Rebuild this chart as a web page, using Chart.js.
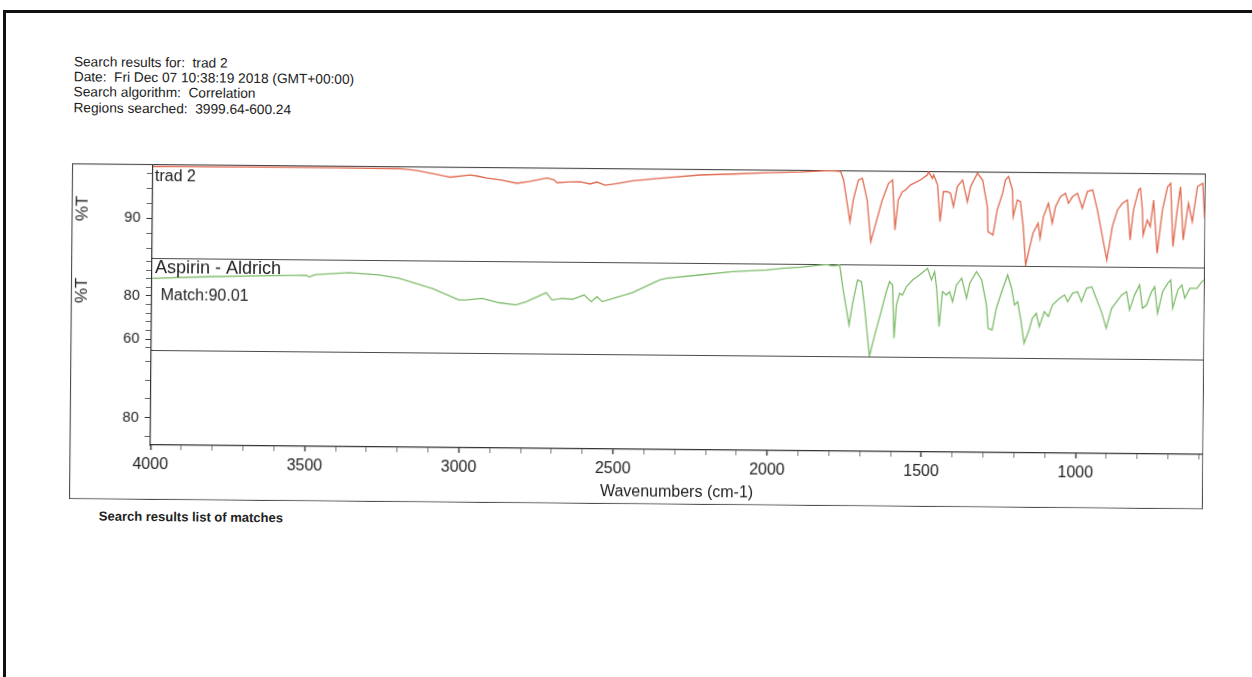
<!DOCTYPE html>
<html>
<head>
<meta charset="utf-8">
<script src="https://cdn.jsdelivr.net/npm/chart.js@4.4.1/dist/chart.umd.min.js"></script>
<style>
html,body{margin:0;padding:0;background:#fff;width:1252px;height:677px;overflow:hidden;}
#border{position:absolute;left:3px;top:10px;width:1300px;height:700px;border-top:3px solid #111;border-left:3px solid #111;}
#page{position:absolute;left:0;top:0;width:1252px;height:677px;transform:rotate(0.52deg);transform-origin:153px 164px;}
#hdr{position:absolute;left:73px;top:55px;font:13.7px/15.2px "Liberation Sans",Arial,sans-serif;color:#222;white-space:pre;}
#wrap{position:absolute;left:72px;top:164px;width:1134px;height:336px;}
#foot{position:absolute;left:102px;top:509px;font:bold 13px/15px "Liberation Sans",Arial,sans-serif;color:#222;white-space:pre;}
</style>
</head>
<body>
<div id="border"></div>
<div id="page">
<div id="hdr">Search results for:  trad 2
Date:  Fri Dec 07 10:38:19 2018 (GMT+00:00)
Search algorithm:  Correlation
Regions searched:  3999.64-600.24</div>
<div id="wrap"><canvas id="c" width="1134" height="336"></canvas></div>
<div id="foot">Search results list of matches</div>
</div>
<script>
// ---- data (wavenumber cm-1 / %T) ----
const tradWn = [4000,3900,3800,3700,3600,3500,3400,3300,3200,3150,
  3100,3050,3036,2971,2950,2916,2870,2819,2780,2721,
  2700,2689,2650,2614,2582,2560,2533,2500,2442,2345,
  2225,2117,2007,1900,1803,1770,1760,1738,1728,1712,
  1699,1683,1670,1657,1634,1614,1601,1592,1582,1569,
  1559,1543,1511,1488,1485,1472,1468,1455,1446,1436,
  1423,1413,1403,1391,1374,1358,1348,1326,1309,1293,
  1290,1274,1261,1244,1235,1225,1212,1209,1196,1186,
  1176,1167,1154,1144,1128,1121,1111,1095,1082,1072,
  1056,1040,1030,1017,1001,985,969,952,936,904,
  887,871,855,839,829,819,803,797,790,787,
  774,764,754,741,725,709,699,690,677,667,
  657,641,628,612,595,588];
const tradT = [96.91,96.92,96.93,96.96,96.97,96.97,96.97,96.93,96.91,96.71,
  96.37,95.97,95.84,96.16,96.04,95.77,95.51,95.11,95.37,95.85,
  95.64,95.24,95.37,95.40,95.11,95.37,94.97,95.17,95.60,95.99,
  96.44,96.61,96.83,96.97,97.20,97.08,95.95,90.39,93.29,95.96,
  96.20,93.31,87.75,89.76,93.32,95.56,96.00,89.35,93.35,94.45,
  94.68,95.36,96.04,96.72,97.16,96.28,96.72,95.39,90.51,94.51,
  94.51,94.31,92.52,95.19,96.09,93.20,95.20,97.00,96.11,92.56,
  89.23,88.79,92.13,94.36,96.15,96.59,94.81,91.25,93.49,93.27,
  89.93,84.83,87.28,89.07,90.41,88.41,91.29,93.08,90.43,92.64,
  93.99,94.44,93.11,94.00,94.45,92.47,94.69,94.92,92.27,85.60,
  90.05,92.28,93.17,93.63,88.29,92.29,94.97,95.20,92.31,88.97,
  90.97,90.09,93.65,86.55,92.33,95.44,95.89,87.45,92.35,95.45,
  88.36,93.25,90.81,95.48,95.93,91.32];

const aspWn = [4000,3800,3650,3500,3490,3470,3361,3263,3198,3111,
  3091,3004,2981,2929,2874,2819,2786,2721,2702,2669,
  2637,2598,2575,2556,2539,2442,2354,2332,2225,2117,
  2007,1955,1900,1812,1793,1770,1759,1738,1728,1712,
  1699,1689,1671,1657,1640,1618,1608,1598,1592,1585,
  1575,1566,1553,1533,1511,1485,1472,1462,1455,1446,
  1436,1423,1413,1403,1391,1374,1358,1348,1326,1309,
  1293,1287,1274,1261,1244,1225,1212,1202,1192,1180,
  1170,1154,1144,1131,1121,1105,1092,1079,1056,1040,
  1030,1014,998,985,969,952,933,920,904,887,
  871,855,839,829,813,797,787,774,758,748,
  738,722,706,696,689,673,660,650,634,611,
  595,588];
const aspT = [88.17,89.24,89.80,90.20,89.40,90.60,91.59,90.67,89.19,85.45,
  84.71,79.44,79.49,80.32,78.38,77.37,78.94,83.19,79.81,80.64,
  80.23,82.26,79.21,81.52,79.26,83.55,89.51,90.34,92.01,93.67,
  94.59,95.42,95.98,97.40,96.72,97.20,86.46,69.51,78.75,90.34,
  89.56,78.84,55.20,63.51,72.75,85.08,89.70,88.17,63.58,78.98,
  84.39,83.60,87.48,90.58,92.93,96.05,90.67,94.50,86.83,69.14,
  85.31,83.79,85.33,80.74,88.45,91.59,82.35,89.28,94.69,90.85,
  79.35,68.59,67.80,77.83,85.54,93.30,87.16,79.44,81.01,71.78,
  61.80,67.99,73.39,75.70,69.56,76.49,74.23,79.63,82.77,84.29,
  81.20,85.12,85.86,81.29,87.48,88.22,81.34,76.72,69.10,78.34,
  81.43,84.52,86.10,77.64,84.57,89.24,78.47,80.00,86.19,88.50,
  76.21,86.23,90.11,91.68,78.61,87.07,89.42,83.28,87.90,87.94,
  90.99,91.82];

const xTickLabels = [4000,3500,3000,2500,2000,1500,1000];
const topTickLabels = [90];
const midTickLabels = [80,60];
const botTickLabels = [80];

const FONT = '"Liberation Sans", Arial, sans-serif';
const INK = '#222';

function yPanel(stackWeight, weight, min, max, step, labels) {
  return {
    type: 'linear', position: 'left', stack: 'panels', stackWeight, weight, min, max,
    afterFit(s) { s.width = 81; s.paddingTop = 0; s.paddingBottom = 0; },
    grid: { drawOnChartArea: false, drawTicks: true, tickLength: 6, color: '#444',
      tickColor: c => (c.tick && labels.includes(c.tick.value)) ? '#333' : '#666' },
    border: { display: true, color: '#333', width: 1.2 },
    ticks: {
      stepSize: step, includeBounds: false, autoSkip: false, maxTicksLimit: 1000, padding: 6,
      color: INK, font: { family: FONT, size: 14.5 },
      callback: v => labels.includes(v) ? String(v) : ''
    }
  };
}

const toPts = (xs, ys) => xs.map((x, i) => ({ x, y: ys[i] }));

const framePlugin = {
  id: 'frame',
  beforeDatasetsDraw(chart) {
    const { ctx, chartArea: a, scales } = chart;
    ctx.save();
    ctx.strokeStyle = '#4a4a4a';
    ctx.lineWidth = 1.2;
    ctx.strokeRect(0.5, 0.5, chart.width - 1, chart.height - 1);
    ctx.beginPath();
    [scales.yTop.bottom, scales.yMid.bottom].forEach(y => {
      const yy = Math.round(y) + 0.5;
      ctx.moveTo(a.left, yy); ctx.lineTo(a.right, yy);
    });
    ctx.stroke();
    ctx.restore();
  },
  afterDraw(chart) {
    const { ctx, chartArea: a, scales } = chart;
    ctx.save();
    ctx.fillStyle = INK;
    ctx.textBaseline = 'middle';
    ctx.textAlign = 'left';
    ctx.font = '16px ' + FONT;
    ctx.fillText('trad 2', a.left + 2, scales.yTop.top + 12.7);
    ctx.font = '18px ' + FONT;
    ctx.fillText('Aspirin - Aldrich', a.left + 3, scales.yMid.top + 10.3);
    ctx.font = '16px ' + FONT;
    ctx.fillText('Match:90.01', a.left + 8.7, scales.yMid.top + 37.7);
    ctx.font = '17px ' + FONT;
    ctx.textAlign = 'center';
    [[scales.yTop.top + 45], [scales.yMid.top + 33]].forEach(([y]) => {
      ctx.save();
      ctx.translate(11.5, y);
      ctx.rotate(-Math.PI / 2);
      ctx.fillText('%T', 0, 0);
      ctx.restore();
    });
    ctx.restore();
  }
};

new Chart(document.getElementById('c'), {
  type: 'line',
  data: {
    datasets: [
      { label: 'trad 2', data: toPts(tradWn, tradT), xAxisID: 'x', yAxisID: 'yTop',
        borderColor: '#e0694f', borderWidth: 1.3, pointRadius: 0, tension: 0, fill: false },
      { label: 'Aspirin - Aldrich', data: toPts(aspWn, aspT), xAxisID: 'x', yAxisID: 'yMid',
        borderColor: '#7fbd6c', borderWidth: 1.3, pointRadius: 0, tension: 0, fill: false }
    ]
  },
  options: {
    responsive: false,
    animation: false,
    devicePixelRatio: 1,
    layout: { padding: { left: 0, right: 0, top: 0, bottom: 0 } },
    plugins: { legend: { display: false }, tooltip: { enabled: false } },
    scales: {
      x: {
        type: 'linear', position: 'bottom', reverse: true, min: 585, max: 4000,
        afterFit(s) { s.height = 55; s.paddingLeft = 0; s.paddingRight = 0; },
        grid: {
          drawOnChartArea: false, drawTicks: true, tickLength: 5, color: '#444',
          tickColor: c => (c.tick && xTickLabels.includes(c.tick.value)) ? '#333' : '#777',
          tickWidth: c => (c.tick && xTickLabels.includes(c.tick.value)) ? 1.4 : 1
        },
        border: { display: true, color: '#333', width: 1.2 },
        ticks: {
          stepSize: 100, includeBounds: false, autoSkip: false, maxTicksLimit: 1000,
          maxRotation: 0, minRotation: 0, padding: 5, color: INK,
          font: { family: FONT, size: 16 },
          callback: v => xTickLabels.includes(v) ? String(v) : ''
        },
        title: { display: true, text: 'Wavenumbers (cm-1)', color: INK,
          font: { family: FONT, size: 16 }, padding: { top: 0, bottom: 3 } }
      },
      yTop: yPanel(94, 3, 84.71, 97.24, 2, topTickLabels),
      yMid: yPanel(92, 2, 55.06, 97.55, 4, midTickLabels),
      yBot: yPanel(95, 1, 72.57, 98.24, 5, botTickLabels)
    }
  },
  plugins: [framePlugin]
});
</script>
</body>
</html>
